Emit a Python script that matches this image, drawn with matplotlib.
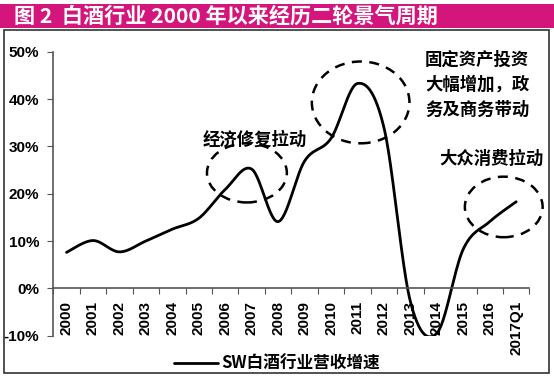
import numpy as np
import matplotlib.pyplot as plt
from matplotlib.patches import Ellipse, Rectangle

# ==============================
# Data
# ==============================

years = ["2000", "2001", "2002", "2003", "2004", "2005", "2006", "2007", "2008",
         "2009", "2010", "2011", "2012", "2013", "2014", "2015", "2016", "2017Q1"]
growth = [7.6, 10.1, 7.7, 10.0, 12.5, 14.8, 20.9, 25.2, 14.1,
          26.9, 31.7, 43.3, 34.0, -2.8, -9.5, 8.3, 14.1, 18.3]

y_ticks = [-10, 0, 10, 20, 30, 40, 50]
y_labels = ["-10%", "0%", "10%", "20%", "30%", "40%", "50%"]

title = "图 2  白酒行业 2000 年以来经历二轮景气周期"
series_name = "SW白酒行业营收增速"
notes = ["经济修复拉动", "固定资产投资\n大幅增加，政\n务及商务带动", "大众消费拉动"]

CJK = ["Noto Sans CJK SC", "DejaVu Sans"]
LAT = ["Liberation Sans", "DejaVu Sans"]
MAGENTA = "#d4157c"

# ==============================
# Excel-like smoothed line (Catmull-Rom through the points)
# ==============================

def smooth(xs, ys, n=30):
    xs = np.asarray(xs, float)
    ys = np.asarray(ys, float)
    px = np.concatenate([[xs[0]], xs, [xs[-1]]])
    py = np.concatenate([[ys[0]], ys, [ys[-1]]])
    out_x, out_y = [], []
    for i in range(1, len(px) - 2):
        t = np.linspace(0, 1, n)
        b0x, b3x = px[i], px[i + 1]
        b0y, b3y = py[i], py[i + 1]
        b1x = b0x + (px[i + 1] - px[i - 1]) / 6
        b1y = b0y + (py[i + 1] - py[i - 1]) / 6
        b2x = b3x - (px[i + 2] - px[i]) / 6
        b2y = b3y - (py[i + 2] - py[i]) / 6
        c = [(1 - t) ** 3, 3 * (1 - t) ** 2 * t, 3 * (1 - t) * t ** 2, t ** 3]
        out_x.append(c[0] * b0x + c[1] * b1x + c[2] * b2x + c[3] * b3x)
        out_y.append(c[0] * b0y + c[1] * b1y + c[2] * b2y + c[3] * b3y)
    return np.concatenate(out_x), np.concatenate(out_y)

# ==============================
# Figure
# ==============================

fig = plt.figure(figsize=(5.54, 3.77), dpi=100)

# title bar + chart frame
fig.patches.append(Rectangle((0.0, 0.9257), 1.0, 0.0637, transform=fig.transFigure,
                             facecolor=MAGENTA, edgecolor="none"))
fig.patches.append(Rectangle((0.0072, 0.0106), 0.9838, 0.9098, transform=fig.transFigure,
                             facecolor="none", edgecolor="#333333", linewidth=1.2))
fig.text(0.025, 0.957, title, color="white", fontsize=15.2, fontweight="bold",
         family=CJK, va="center", ha="left")

ax = fig.add_axes([0.0962, 0.1098, 0.8594, 0.7528])
x = np.arange(len(years))
sx, sy = smooth(x, growth)
ax.plot(sx, sy, color="black", linewidth=2.0, label=series_name, solid_capstyle="round")

ax.set_xlim(-0.5, len(years) - 0.5)
ax.set_ylim(-10, 50)

for s in ["top", "right"]:
    ax.spines[s].set_visible(False)
ax.spines["bottom"].set_position(("data", 0))
ax.spines["left"].set_color("#555555")
ax.spines["bottom"].set_color("#555555")
ax.spines["left"].set_linewidth(1.2)
ax.spines["bottom"].set_linewidth(1.2)

ax.set_yticks(y_ticks)
ax.set_yticklabels(y_labels, fontsize=11, fontweight="bold", family=LAT)
ax.tick_params(axis="y", length=4, color="#555555", pad=6)

ax.set_xticks(np.arange(len(years) + 1) - 0.5)
ax.set_xticklabels([])
ax.tick_params(axis="x", which="major", length=4, color="#555555", direction="out")
ax.set_xticks(x, minor=True)
ax.set_xticklabels(years, minor=True, rotation=90, fontsize=11,
                   fontweight="bold", family=LAT, va="top")
ax.tick_params(axis="x", which="minor", length=0, pad=9)

# dashed ellipses
ell_style = dict(facecolor="none", edgecolor="black", linewidth=1.8,
                 linestyle=(0, (4, 3)), clip_on=False)
ax.add_patch(Ellipse((6.82, 24.4), 3.02, 12.5, **ell_style))
ax.add_patch(Ellipse((11.12, 39.3), 3.69, 17.3, **ell_style))
ax.add_patch(Ellipse((16.53, 17.2), 2.94, 12.8, **ell_style))

# annotations
ax.text(7.1, 31.5, notes[0], fontsize=12.5, fontweight="bold", family=CJK,
        ha="center", va="center")
ax.text(13.55, 50.3, notes[1], fontsize=12.5, fontweight="bold", family=CJK,
        ha="left", va="top", linespacing=1.5, clip_on=False)
ax.text(16.05, 27.4, notes[2], fontsize=12.5, fontweight="bold", family=CJK,
        ha="center", va="center", clip_on=False)

leg = ax.legend(loc="center", bbox_to_anchor=(0.47, -0.1), frameon=False,
                handlelength=2.6, handletextpad=0.2,
                prop={"family": CJK, "weight": "bold", "size": 12})

fig.savefig("out.png", dpi=100)
